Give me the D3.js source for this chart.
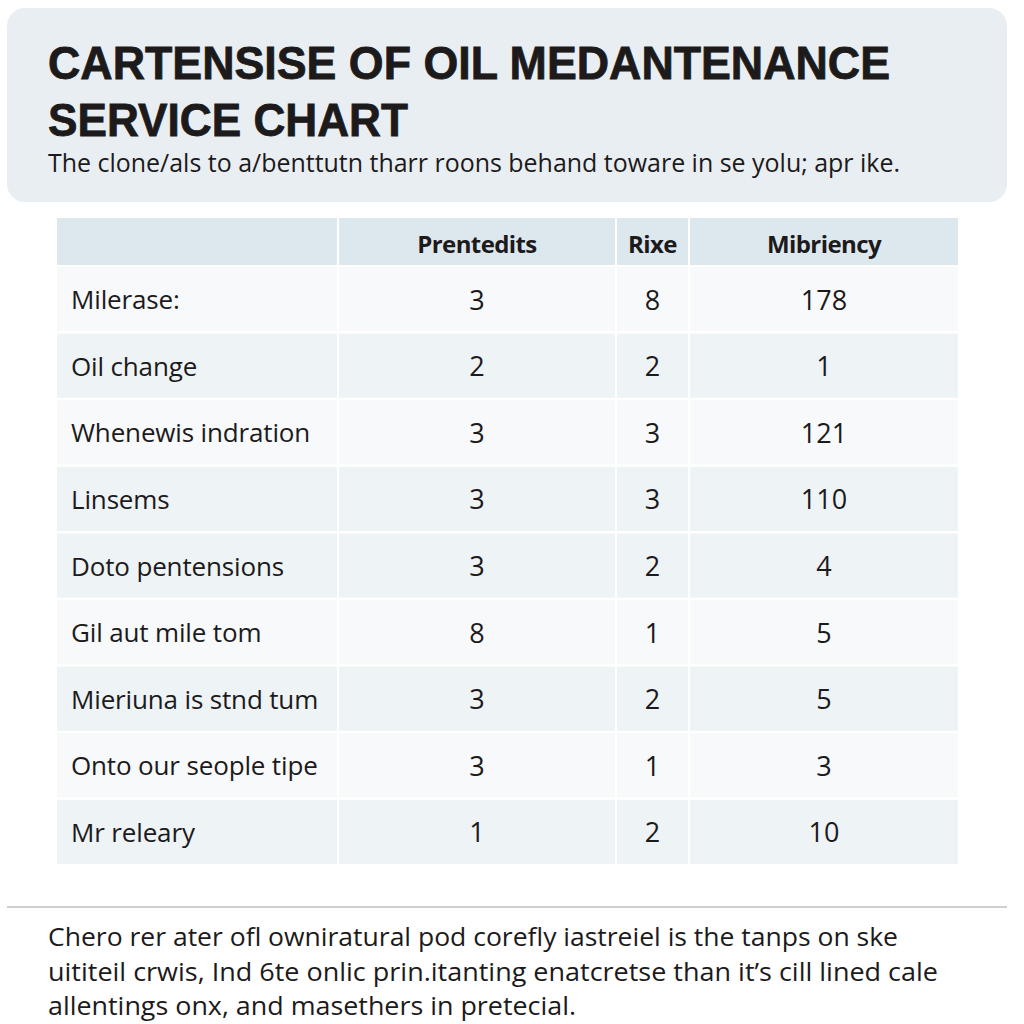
<!DOCTYPE html>
<html><head><meta charset="utf-8">
<script src="https://cdn.jsdelivr.net/npm/d3@7"></script>
<style>html,body{margin:0;padding:0;background:#fff;}svg{display:block;}</style>
</head><body>
<script>
const titleLines = ["CARTENSISE OF OIL MEDANTENANCE", "SERVICE CHART"];
const subtitle = "The clone/als to a/benttutn tharr roons behand toware in se yolu; apr ike.";
const columns = ["", "Prentedits", "Rixe", "Mibriency"];
const categories = ["Milerase:", "Oil change", "Whenewis indration", "Linsems", "Doto pentensions", "Gil aut mile tom", "Mieriuna is stnd tum", "Onto our seople tipe", "Mr releary"];
const prentedits = [3, 2, 3, 3, 3, 8, 3, 3, 1];
const rixe = [8, 2, 3, 3, 2, 1, 2, 1, 2];
const mibriency = [178, 1, 121, 110, 4, 5, 5, 3, 10];
const footerLines = [
  "Chero rer ater ofl owniratural pod corefly iastreiel is the tanps on ske",
  "uititeil crwis, Ind 6te onlic prin.itanting enatcretse than it\u2019s cill lined cale",
  "allentings onx, and masethers in pretecial."
];

const W = 1024, H = 1024;
const svg = d3.select("body").append("svg").attr("width", W).attr("height", H);
const FONT = "'Open Sans', 'Noto Sans', sans-serif";
const INK = "#1c1a1b";

// header panel
svg.append("rect").attr("x", 7).attr("y", 8).attr("width", 1000).attr("height", 194)
  .attr("rx", 18).attr("fill", "#e9eef2");

const titleSpecs = [{y: 79, len: 842}, {y: 136, len: 360}];
titleLines.forEach((t, i) => {
  svg.append("text").attr("x", 48).attr("y", titleSpecs[i].y)
    .attr("font-family", "'Liberation Sans', Arial, sans-serif").attr("font-weight", 700)
    .attr("font-size", 46).attr("fill", INK)
    .attr("textLength", titleSpecs[i].len).attr("lengthAdjust", "spacingAndGlyphs")
    .attr("stroke", INK).attr("stroke-width", 0.8)
    .text(t);
});
svg.append("text").attr("x", 48).attr("y", 172)
  .attr("font-family", FONT).attr("font-size", 26).attr("fill", INK)
  .attr("textLength", 852).attr("lengthAdjust", "spacingAndGlyphs")
  .text(subtitle);

// table
const colWeights = [282, 278, 73, 270];
const gap = 2;
const tableX0 = 57;
const cum = [0];
colWeights.forEach(w => cum.push(cum[cum.length - 1] + w));
const x = d3.scaleLinear().domain([0, cum[cum.length - 1]]).range([tableX0, tableX0 + cum[cum.length - 1]]);
const colX = i => x(cum[i]);
const colW = i => x(cum[i + 1]) - x(cum[i]) - gap;

const y = d3.scaleBand().domain(categories).range([267, 864]).paddingInner(0.036).paddingOuter(0);

// header row
columns.forEach((c, i) => {
  svg.append("rect").attr("x", colX(i)).attr("y", 218).attr("width", colW(i)).attr("height", 47)
    .attr("fill", "#dde7ee");
  if (c) {
    svg.append("text").attr("x", colX(i) + colW(i) / 2).attr("y", 243)
      .attr("text-anchor", "middle").attr("dominant-baseline", "central")
      .attr("font-family", FONT).attr("font-weight", 700).attr("font-size", 24)
      .attr("fill", INK).attr("letter-spacing", -0.6).text(c);
  }
});

const lightRows = new Set([0, 2, 5, 7]);
const rows = categories.map((c, i) => ({cat: c, vals: [prentedits[i], rixe[i], mibriency[i]], i}));
const rowFill = i => (lightRows.has(i) ? "#f7f9fb" : "#eef3f6");

const g = svg.append("g").selectAll("g").data(rows).join("g");
g.each(function(d) {
  const sel = d3.select(this);
  for (let k = 0; k < 4; k++) {
    sel.append("rect").attr("x", colX(k)).attr("y", y(d.cat)).attr("width", colW(k)).attr("height", y.bandwidth())
      .attr("fill", rowFill(d.i));
  }
  const cy = y(d.cat) + y.bandwidth() / 2;
  sel.append("text").attr("x", 71).attr("y", cy).attr("dominant-baseline", "central")
    .attr("font-family", FONT).attr("font-size", 26).attr("fill", INK)
    .attr("letter-spacing", -0.15)
    .text(d.cat);
  d.vals.forEach((v, k) => {
    sel.append("text").attr("x", colX(k + 1) + colW(k + 1) / 2).attr("y", cy)
      .attr("text-anchor", "middle").attr("dominant-baseline", "central")
      .attr("font-family", FONT).attr("font-size", 27).attr("fill", INK)
      .text(v);
  });
});

// separator
svg.append("line").attr("x1", 7).attr("x2", 1007).attr("y1", 907).attr("y2", 907)
  .attr("stroke", "#cfcfcf").attr("stroke-width", 2);

const footLens = [850, 890, 528];
const footer = svg.append("text").attr("font-family", FONT).attr("font-size", 25).attr("fill", INK);
footerLines.forEach((t, i) => {
  footer.append("tspan").attr("x", 48).attr("y", 946 + i * 34.5)
    .attr("textLength", footLens[i]).attr("lengthAdjust", "spacingAndGlyphs")
    .text(t);
});
</script>
</body></html>
